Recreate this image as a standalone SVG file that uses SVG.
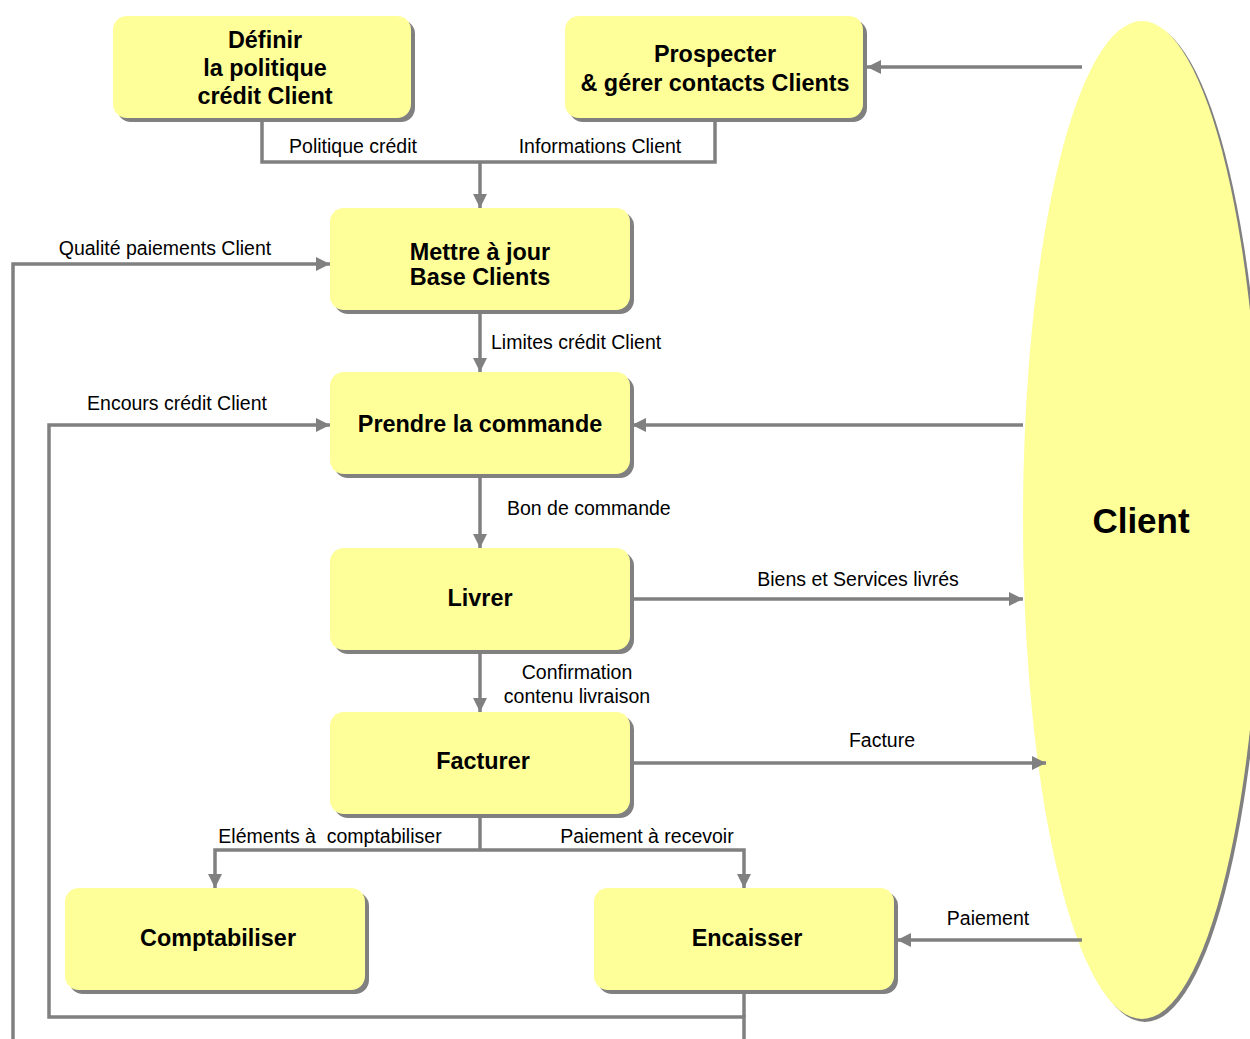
<svg xmlns="http://www.w3.org/2000/svg" width="1250" height="1039" viewBox="0 0 1250 1039">
<defs>
<marker id="arr" markerUnits="userSpaceOnUse" markerWidth="16" markerHeight="16" refX="14" refY="7" orient="auto">
<path d="M0,0 L14,7 L0,14 z" fill="#808080"/>
</marker>
<style>
.box{fill:#FFFF99;}
.sh{fill:#808080;}
.c{fill:none;stroke:#808080;stroke-width:3.5;}
.a{marker-end:url(#arr);}
.nt{font-family:"Liberation Sans",Arial,sans-serif;font-weight:bold;font-size:23.4px;fill:#000;text-anchor:middle;}
.lt{font-family:"Liberation Sans",Arial,sans-serif;font-size:19.5px;fill:#000;white-space:pre;}
.m{text-anchor:middle;}
</style>
</defs>
<rect width="1250" height="1039" fill="#fff"/>

<g id="client">
<ellipse cx="1145" cy="523" rx="119" ry="499" class="sh"/>
<ellipse cx="1142" cy="520" rx="119" ry="499" class="box"/>
<text x="1141" y="533" class="nt" style="font-size:35px">Client</text>
</g>

<g id="connectors">
<polyline class="c" points="262,118 262,162 715,162 715,118"/>
<line class="c a" x1="480" y1="162" x2="480" y2="208"/>
<line class="c a" x1="480" y1="310" x2="480" y2="372"/>
<line class="c a" x1="480" y1="474" x2="480" y2="548"/>
<line class="c a" x1="480" y1="650" x2="480" y2="712"/>
<line class="c a" x1="632" y1="599" x2="1023" y2="599"/>
<line class="c a" x1="632" y1="763" x2="1046" y2="763"/>
<line class="c a" x1="1082" y1="67" x2="867" y2="67"/>
<line class="c a" x1="1023" y1="425" x2="632" y2="425"/>
<line class="c a" x1="1082" y1="940" x2="897" y2="940"/>
<polyline class="c" points="480,814 480,850"/>
<polyline class="c a" points="480,850 215,850 215,888"/>
<polyline class="c a" points="480,850 744,850 744,888"/>
<polyline class="c a" points="744,1039 744,1017 49,1017 49,425 330,425"/>
<polyline class="c" points="744,992 744,1017"/>
<polyline class="c a" points="13,1039 13,264 330,264"/>
<text x="353" y="153" class="lt m">Politique crédit</text>
<text x="600" y="153" class="lt m">Informations Client</text>
<text x="165" y="255" class="lt m">Qualité paiements Client</text>
<text x="491" y="349" class="lt">Limites crédit Client</text>
<text x="177" y="410" class="lt m">Encours crédit Client</text>
<text x="507" y="515" class="lt">Bon de commande</text>
<text x="577" y="679" class="lt m">Confirmation</text>
<text x="577" y="703" class="lt m">contenu livraison</text>
<text x="858" y="586" class="lt m">Biens et Services livrés</text>
<text x="882" y="747" class="lt m">Facture</text>
<text x="330" y="843" class="lt m">Eléments à  comptabiliser</text>
<text x="647" y="843" class="lt m">Paiement à recevoir</text>
<text x="988" y="925" class="lt m">Paiement</text>
</g>

<g id="definir">
<rect x="117" y="20" width="298" height="102" rx="14" class="sh"/>
<rect x="113" y="16" width="298" height="102" rx="14" class="box"/>
<text x="265" y="48" class="nt">Définir</text>
<text x="265" y="76" class="nt">la politique</text>
<text x="265" y="104" class="nt">crédit Client</text>
</g>

<g id="prospecter">
<rect x="569" y="20" width="298" height="102" rx="14" class="sh"/>
<rect x="565" y="16" width="298" height="102" rx="14" class="box"/>
<text x="715" y="62" class="nt">Prospecter</text>
<text x="715" y="91" class="nt">&amp; gérer contacts Clients</text>
</g>

<g id="mettre">
<rect x="334" y="212" width="300" height="102" rx="14" class="sh"/>
<rect x="330" y="208" width="300" height="102" rx="14" class="box"/>
<text x="480" y="260" class="nt">Mettre à jour</text>
<text x="480" y="285" class="nt">Base Clients</text>
</g>

<g id="prendre">
<rect x="334" y="376" width="300" height="102" rx="14" class="sh"/>
<rect x="330" y="372" width="300" height="102" rx="14" class="box"/>
<text x="480" y="432" class="nt">Prendre la commande</text>
</g>

<g id="livrer">
<rect x="334" y="552" width="300" height="102" rx="14" class="sh"/>
<rect x="330" y="548" width="300" height="102" rx="14" class="box"/>
<text x="480" y="606" class="nt">Livrer</text>
</g>

<g id="facturer">
<rect x="334" y="716" width="300" height="102" rx="14" class="sh"/>
<rect x="330" y="712" width="300" height="102" rx="14" class="box"/>
<text x="483" y="769" class="nt">Facturer</text>
</g>

<g id="comptabiliser">
<rect x="69" y="892" width="300" height="102" rx="14" class="sh"/>
<rect x="65" y="888" width="300" height="102" rx="14" class="box"/>
<text x="218" y="946" class="nt">Comptabiliser</text>
</g>

<g id="encaisser">
<rect x="598" y="892" width="300" height="102" rx="14" class="sh"/>
<rect x="594" y="888" width="300" height="102" rx="14" class="box"/>
<text x="747" y="946" class="nt">Encaisser</text>
</g>
</svg>
